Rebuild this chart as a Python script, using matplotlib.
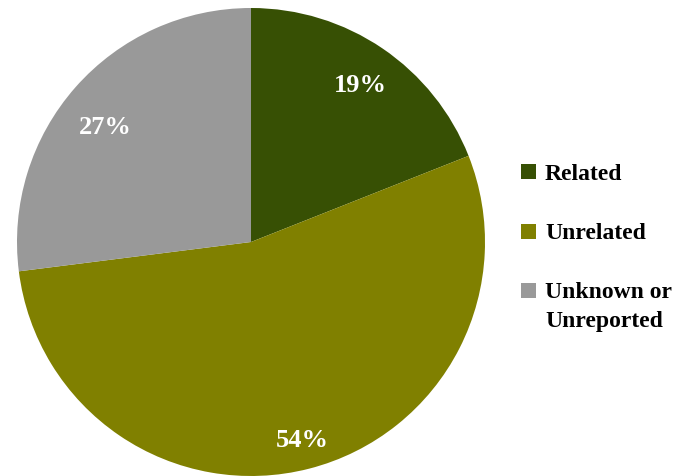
import numpy as np
import matplotlib.pyplot as plt
from matplotlib.patches import Rectangle

categories = ["Related", "Unrelated", "Unknown or\nUnreported"]
shares = [19, 54, 27]
colors = ["#375004", "#808000", "#999999"]

# per-slice label placement (radial distance, angular nudge in degrees)
label_dist = [0.828, 0.861, 0.800]
label_nudge = [0.0, 0.3, 2.3]

W, H = 678, 477
fig = plt.figure(figsize=(W / 100, H / 100), dpi=100)
fig.patch.set_facecolor("white")

# pie occupies a square region on the left
cx, cy, r = 251, 243, 234
ax = fig.add_axes([(cx - r) / W, (H - cy - r) / H, 2 * r / W, 2 * r / H])
wedges, _, autotexts = ax.pie(
    shares, colors=colors, startangle=90, counterclock=False,
    radius=1.0, autopct="%d%%", pctdistance=0.83,
    wedgeprops=dict(linewidth=0),
    textprops=dict(color="white", fontsize=19, fontweight="bold",
                   family="Liberation Serif"))
for w, t, d, nudge in zip(wedges, autotexts, label_dist, label_nudge):
    ang = np.deg2rad((w.theta1 + w.theta2) / 2 + nudge)
    t.set_position((d * np.cos(ang), d * np.sin(ang) - 0.013))
ax.set_xlim(-1, 1)
ax.set_ylim(-1, 1)
ax.set_aspect("equal")
ax.axis("off")

# legend on the right
label_y = [172, 232, 291]
for name, col, y in zip(categories, colors, label_y):
    fig.patches.append(Rectangle((521 / W, (H - y - 8) / H), 15 / W, 15 / H,
                                 transform=fig.transFigure, facecolor=col,
                                 edgecolor="none"))
    lines = name.split("\n")
    for i, line in enumerate(lines):
        fig.text(545 / W, (H - y - 2 - i * 28) / H, line, ha="left", va="center",
                 fontsize=17, fontweight="bold", family="Liberation Serif",
                 color="black")

fig.savefig("out.png", dpi=100)
